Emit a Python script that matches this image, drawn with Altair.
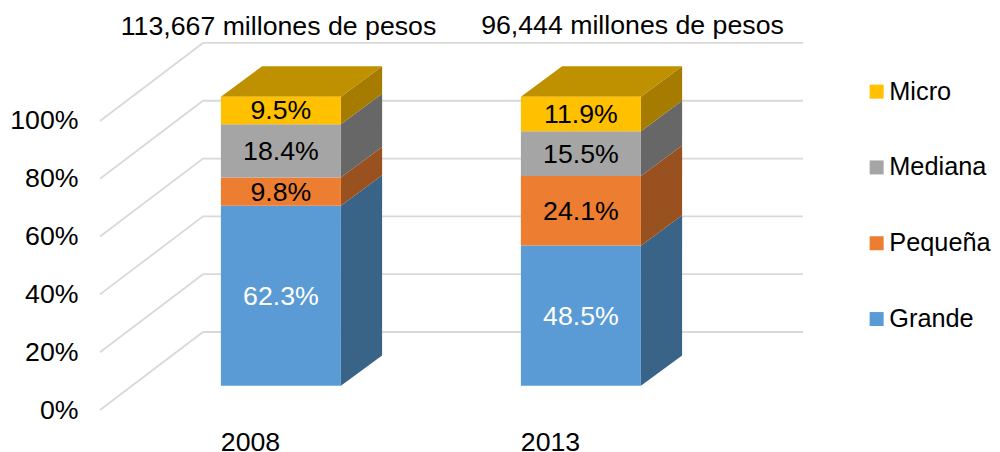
import altair as alt
import pandas as pd

# --- values ---
years = ["2008", "2013"]
series = ["Grande", "Pequeña", "Mediana", "Micro"]
grande = [62.3, 48.5]
pequena = [9.8, 24.1]
mediana = [18.4, 15.5]
micro = [9.5, 11.9]
totals = ["113,667 millones de pesos", "96,444 millones de pesos"]
ticks = [0, 20, 40, 60, 80, 100]

# --- styles ---
front_colors = ["#5b9bd5", "#ed7d31", "#a5a5a5", "#ffc000"]
side_colors = ["#3a6487", "#9a5120", "#676767", "#a67c00"]
top_color = "#bf9000"
label_colors = ["white", "black", "black", "black"]
grid_color = "#d9d9d9"
FONT = "Liberation Sans"
FS = 26.7

# --- pseudo-3D projection (depth 0 = front of floor, 1 = back wall) ---
W, H = 703, 370
X_UNIT = 300.0
Y_MAX = 128.0
PCT_PX = H / Y_MAX
DEPTH_DX = 103 / X_UNIT
DEPTH_DY = 78 / PCT_PX
BAR_DX0, BAR_DX1 = 0.30, 0.70
BAR_DY0, BAR_DY1 = 0.31, 0.70
BAR_W = 0.4


def px(cat, depth):
    return cat + depth * DEPTH_DX


def py(pct, depth):
    return pct + depth * DEPTH_DY


values = [grande, pequena, mediana, micro]
grid, front, side, top, labels = [], [], [], [], []

for t in ticks:
    for k, (c, d) in enumerate([(-0.5, 0), (-0.5, 1), (1.5, 1)]):
        grid.append({"tick": t, "k": k, "x": px(c, d), "y": py(t, d)})

for i, yr in enumerate(years):
    x_l, x_r = i - BAR_W / 2, i + BAR_W / 2
    low = 0.0
    for s, name in enumerate(series):
        high = low + values[s][i]
        front.append({"serie": name, "x": px(x_l, BAR_DX0), "x2": px(x_r, BAR_DX0),
                      "y": py(low, BAR_DY0), "y2": py(high, BAR_DY0)})
        labels.append({"x": px(i, BAR_DX0), "y": py((low + high) / 2, BAR_DY0),
                       "t": f"{values[s][i]:.1f}%", "c": label_colors[s]})
        for dx, dy in ((BAR_DX0, BAR_DY0), (BAR_DX1, BAR_DY1)):
            side.append({"id": f"{yr}-{name}", "fill": side_colors[s], "x": px(x_r, dx),
                         "y": py(low, dy), "y2": py(high, dy)})
        low = high
    for dx, dy in ((BAR_DX0, BAR_DY0), (BAR_DX1, BAR_DY1)):
        top.append({"id": yr, "x": px(x_l, dx), "x2": px(x_r, dx), "y": py(low, dy)})

annot = pd.DataFrame({"x": [0.095, 1.275], "y": [132.4, 132.8], "t": totals})

x_scale = alt.Scale(domain=[-0.5, 1.5 + DEPTH_DX], nice=False, zero=False)
y_scale = alt.Scale(domain=[0, Y_MAX], nice=False, zero=False)
labels_js = "[" + ",".join(f"'{y}'" for y in years) + "]"

x_enc = alt.X("x:Q", scale=x_scale, title=None, axis=alt.Axis(
    values=[0, 1], labelExpr=f"{labels_js}[datum.value]", grid=False, domain=False,
    ticks=False, labelPadding=19, labelFontSize=FS, labelFont=FONT, labelColor="black"))
y_enc = alt.Y("y:Q", scale=y_scale, title=None, axis=alt.Axis(
    values=ticks, labelExpr="datum.value + '%'", grid=False, domain=False, ticks=False,
    labelPadding=22, labelFontSize=FS, labelFont=FONT, labelColor="black"))

grid_layer = alt.Chart(pd.DataFrame(grid)).mark_line(
    color=grid_color, strokeWidth=1.8
).encode(x=x_enc, y=y_enc, detail="tick:N", order="k:Q")

side_layer = alt.Chart(pd.DataFrame(side)).mark_area(opacity=1).encode(
    x=x_enc, y=y_enc, y2="y2:Q",
    fill=alt.Fill("fill:N", scale=None, legend=None),
    detail="id:N",
)

top_layer = alt.Chart(pd.DataFrame(top)).mark_area(orient="horizontal", color=top_color, opacity=1).encode(
    y=y_enc, x=x_enc, x2="x2:Q", detail="id:N",
)

front_layer = alt.Chart(pd.DataFrame(front)).mark_rect().encode(
    x=x_enc, x2="x2:Q", y=y_enc, y2="y2:Q",
    color=alt.Color("serie:N", scale=alt.Scale(domain=series, range=front_colors),
                    sort=series[::-1],
                    legend=alt.Legend(
                        title=None, orient="none", legendX=764, legendY=39,
                        values=series[::-1], symbolType="square", symbolSize=196,
                        symbolStrokeWidth=0, labelFontSize=25.3, labelFont=FONT,
                        labelColor="black", rowPadding=49.8, labelOffset=0)),
)

label_layer = alt.Chart(pd.DataFrame(labels)).mark_text(font=FONT, fontSize=FS, dy=1).encode(
    x=x_enc, y=y_enc, text="t:N", color=alt.Color("c:N", scale=None, legend=None),
)

annot_layer = alt.Chart(annot).mark_text(font=FONT, fontSize=FS, color="black").encode(
    x=x_enc, y=y_enc, text="t:N",
)

chart = alt.layer(
    grid_layer, side_layer, top_layer, front_layer, label_layer, annot_layer
).resolve_scale(color="independent").properties(
    width=W, height=H,
    autosize=alt.AutoSizeParams(type="none"),
    padding={"left": 92, "top": 32, "right": 189, "bottom": 42},
    background="white",
).configure_view(stroke=None)

chart.save("out.html", embed_options={"renderer": "svg", "actions": False})
